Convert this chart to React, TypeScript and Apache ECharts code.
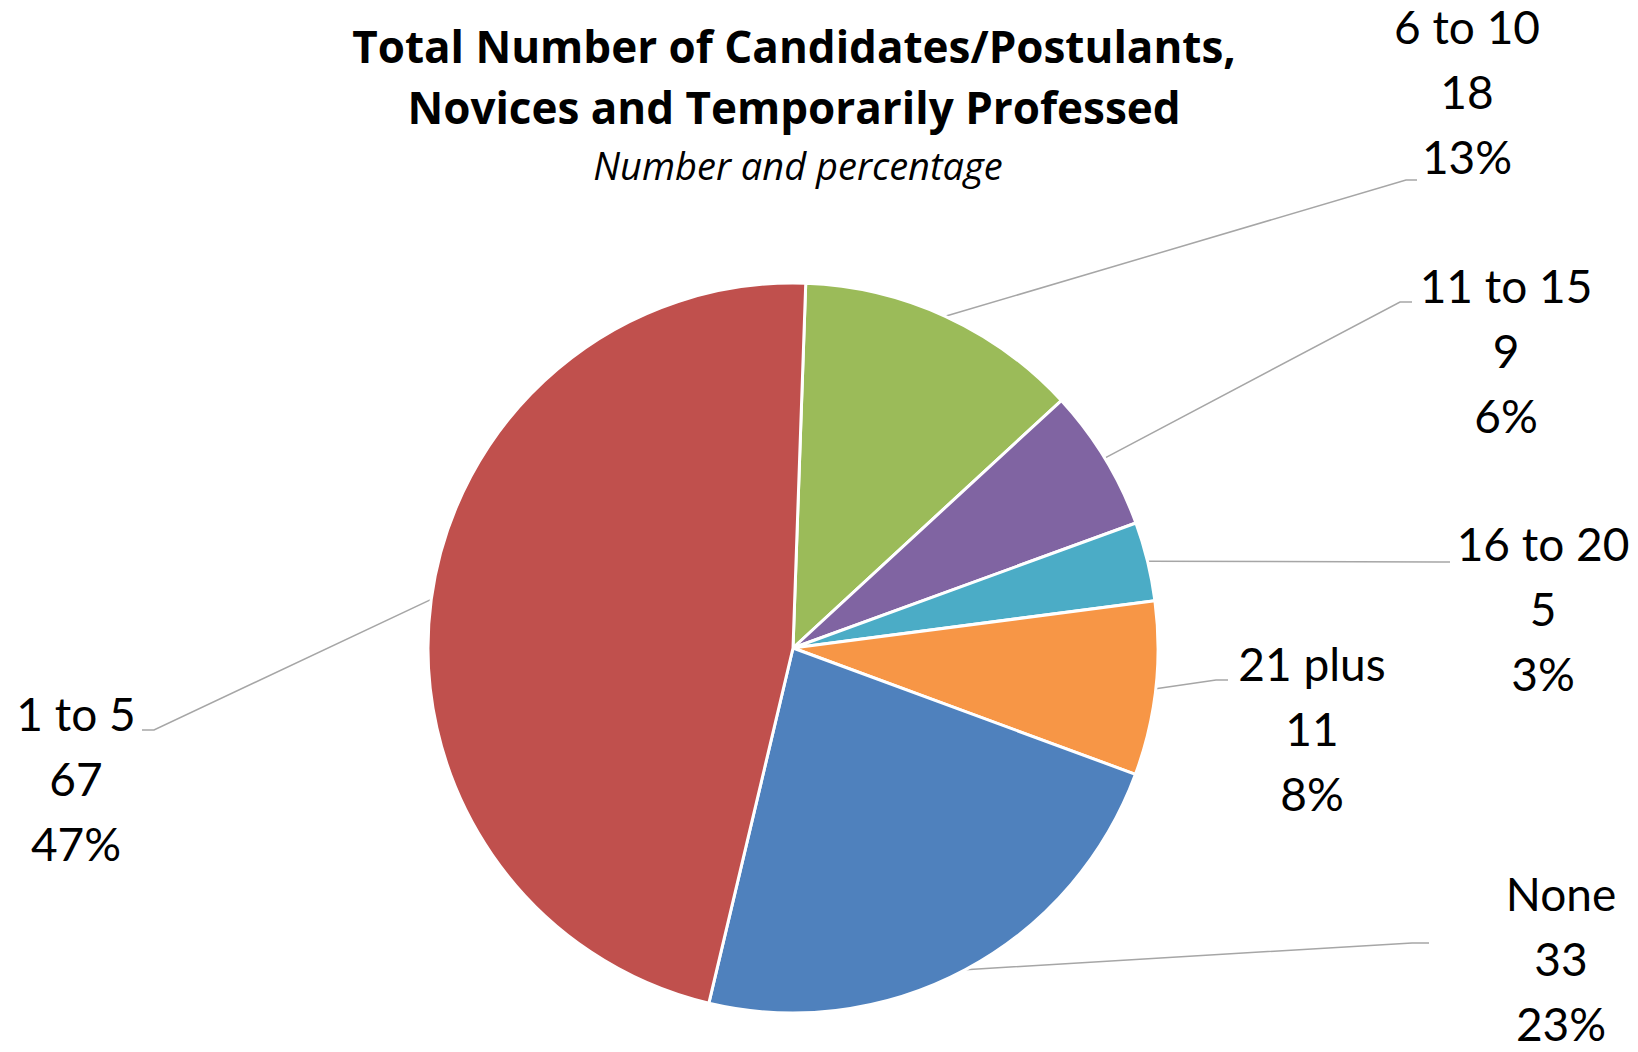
import React, { useEffect, useRef } from 'react';
import * as echarts from 'echarts';

const categories = ['6 to 10', '11 to 15', '16 to 20', '21 plus', 'None', '1 to 5'];
const counts = [18, 9, 5, 11, 33, 67];
const sliceColors = ['#9BBB59', '#8064A2', '#4BACC6', '#F79646', '#4F81BD', '#C0504D'];
const titleLines = ['Total Number of Candidates/Postulants,', 'Novices and Temporarily Professed'];
const subtitleText = 'Number and percentage';

// label layout: centre x and centre y of the middle text line
const labelCenters = [[1467, 91], [1506, 350], [1543, 608], [1312, 728], [1561, 958], [76, 778]];
// leader line elbow and end points: [elbowX, elbowY, endX, endY]
const leaderEnds = [
  [1406, 180, 1417, 180],
  [1400, 302, 1412, 302],
  [1440, 562, 1450, 562],
  [1216, 680, 1228, 680],
  [1412, 943, 1429, 943],
  [154, 730, 142, 730],
];

const FONT = 'Lato, "Open Sans", sans-serif';
const TITLE_FONT = '"Open Sans", Lato, sans-serif';

export default function App() {
  const ref = useRef<HTMLDivElement>(null);
  useEffect(() => {
    document.body.style.margin = '0';
    if (!ref.current) return;
    const chart = echarts.init(ref.current, null, { renderer: 'svg' });
    const cx = 793;
    const cy = 648;
    const r = 365;
    chart.setOption({
      animation: false,
      backgroundColor: '#ffffff',
      graphic: [
        {
          type: 'text',
          x: 794,
          y: 46,
          style: {
            text: titleLines[0],
            fontSize: 44,
            fontWeight: 'bold',
            fontFamily: TITLE_FONT,
            fill: '#000',
            align: 'center',
            verticalAlign: 'middle',
          },
        },
        {
          type: 'text',
          x: 794,
          y: 107,
          style: {
            text: titleLines[1],
            fontSize: 44,
            fontWeight: 'bold',
            fontFamily: TITLE_FONT,
            fill: '#000',
            align: 'center',
            verticalAlign: 'middle',
          },
        },
        {
          type: 'text',
          x: 798,
          y: 165,
          style: {
            text: subtitleText,
            fontSize: 38,
            fontStyle: 'italic',
            fontFamily: TITLE_FONT,
            fill: '#000',
            align: 'center',
            verticalAlign: 'middle',
          },
        },
      ],
      series: [
        {
          type: 'pie',
          center: [cx, cy],
          radius: r,
          startAngle: 88,
          clockwise: true,
          avoidLabelOverlap: false,
          percentPrecision: 0,
          data: categories.map((name, i) => ({
            name,
            value: counts[i],
            itemStyle: { color: sliceColors[i] },
          })),
          itemStyle: { borderColor: '#ffffff', borderWidth: 3 },
          label: {
            show: true,
            position: 'outside',
            formatter: '{b}\n{c}\n{d}%',
            fontSize: 46,
            lineHeight: 65,
            fontFamily: FONT,
            color: '#000',
            width: 400,
            overflow: 'none',
            align: 'center',
          },
          labelLine: {
            show: true,
            length: 20,
            length2: 20,
            lineStyle: { color: '#A6A6A6', width: 1.5 },
          },
          labelLayout: (params: any) => {
            const i = params.dataIndex;
            const c = labelCenters[i];
            const e = leaderEnds[i];
            const p0 = params.labelLinePoints && params.labelLinePoints[0];
            return {
              x: c[0],
              y: c[1],
              align: 'center',
              verticalAlign: 'middle',
              labelLinePoints: p0 ? [p0, [e[0], e[1]], [e[2], e[3]]] : undefined,
            };
          },
          emphasis: { disabled: true },
        },
      ],
    });
    return () => chart.dispose();
  }, []);
  return (
    <div
      ref={ref}
      style={{ position: 'absolute', left: 0, top: 0, width: 1638, height: 1052 }}
    />
  );
}
